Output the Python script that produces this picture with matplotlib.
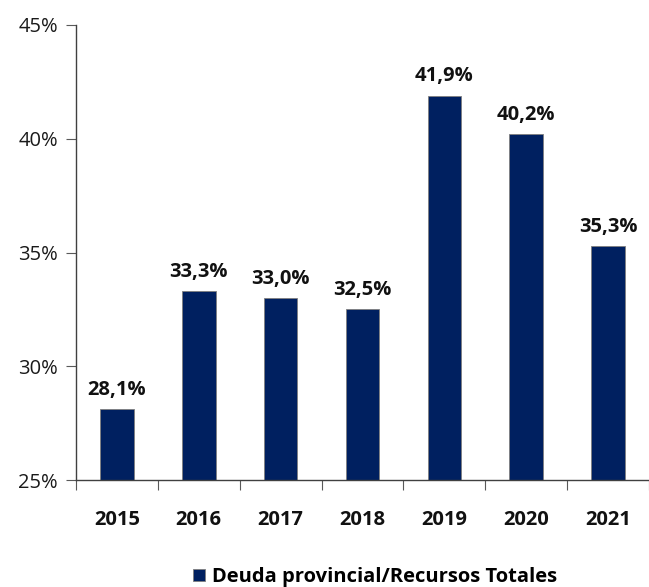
import matplotlib
matplotlib.use("Agg")
import matplotlib.pyplot as plt
from matplotlib.patches import Patch

years = ["2015", "2016", "2017", "2018", "2019", "2020", "2021"]
values = [28.1, 33.3, 33.0, 32.5, 41.9, 40.2, 35.3]
labels = ["28,1%", "33,3%", "33,0%", "32,5%", "41,9%", "40,2%", "35,3%"]
yticks = [25, 30, 35, 40, 45]
series_name = "Deuda provincial/Recursos Totales"

plt.rcParams['font.family'] = ['Open Sans', 'DejaVu Sans']
color = "#002060"
fs = 14.5

fig = plt.figure(figsize=(6.49, 5.87), dpi=100)
ax = fig.add_axes([76/649, 1-480/587, (649-76)/649, (480-25)/587])
x = list(range(len(years)))
ax.bar(x, [v - 25 for v in values], bottom=25, width=0.41, color=color,
       edgecolor="#7f7f7f", linewidth=0.6)
for xi, v, lab in zip(x, values, labels):
    ax.text(xi, v + 0.4, lab, ha="center", va="bottom", fontsize=fs,
            fontweight="bold", color="#111111")
ax.set_ylim(25, 45)
ax.set_xlim(-0.5, -0.5 + 573/83)
ax.set_yticks(yticks)
ax.set_yticklabels([f"{t}%" for t in yticks], fontsize=fs, color="#1a1a1a")
ax.set_xticks([i - 0.5 for i in range(len(years) + 1)])
ax.set_xticklabels([])
ax.tick_params(axis="x", length=7, direction="out", color="#595959")
ax.tick_params(axis="y", length=7, direction="out", color="#595959", pad=6)
for xi, y in zip(x, years):
    ax.text(xi, -0.088, y, transform=ax.get_xaxis_transform(), ha="center",
            va="center", fontsize=fs, fontweight="bold", color="#111111")
for s in ["top", "right"]:
    ax.spines[s].set_visible(False)
for s in ["left", "bottom"]:
    ax.spines[s].set_color("#404040")
    ax.spines[s].set_linewidth(1.0)

handle = Patch(facecolor=color, edgecolor="#7f7f7f", linewidth=0.6)
fig.legend([handle], [series_name], loc="center", bbox_to_anchor=(375/649, 1-577/587),
           frameon=False, prop={"size": fs, "weight": "bold"}, handlelength=0.6,
           handleheight=0.6, handletextpad=0.3)
fig.savefig("out.png", dpi=100)
